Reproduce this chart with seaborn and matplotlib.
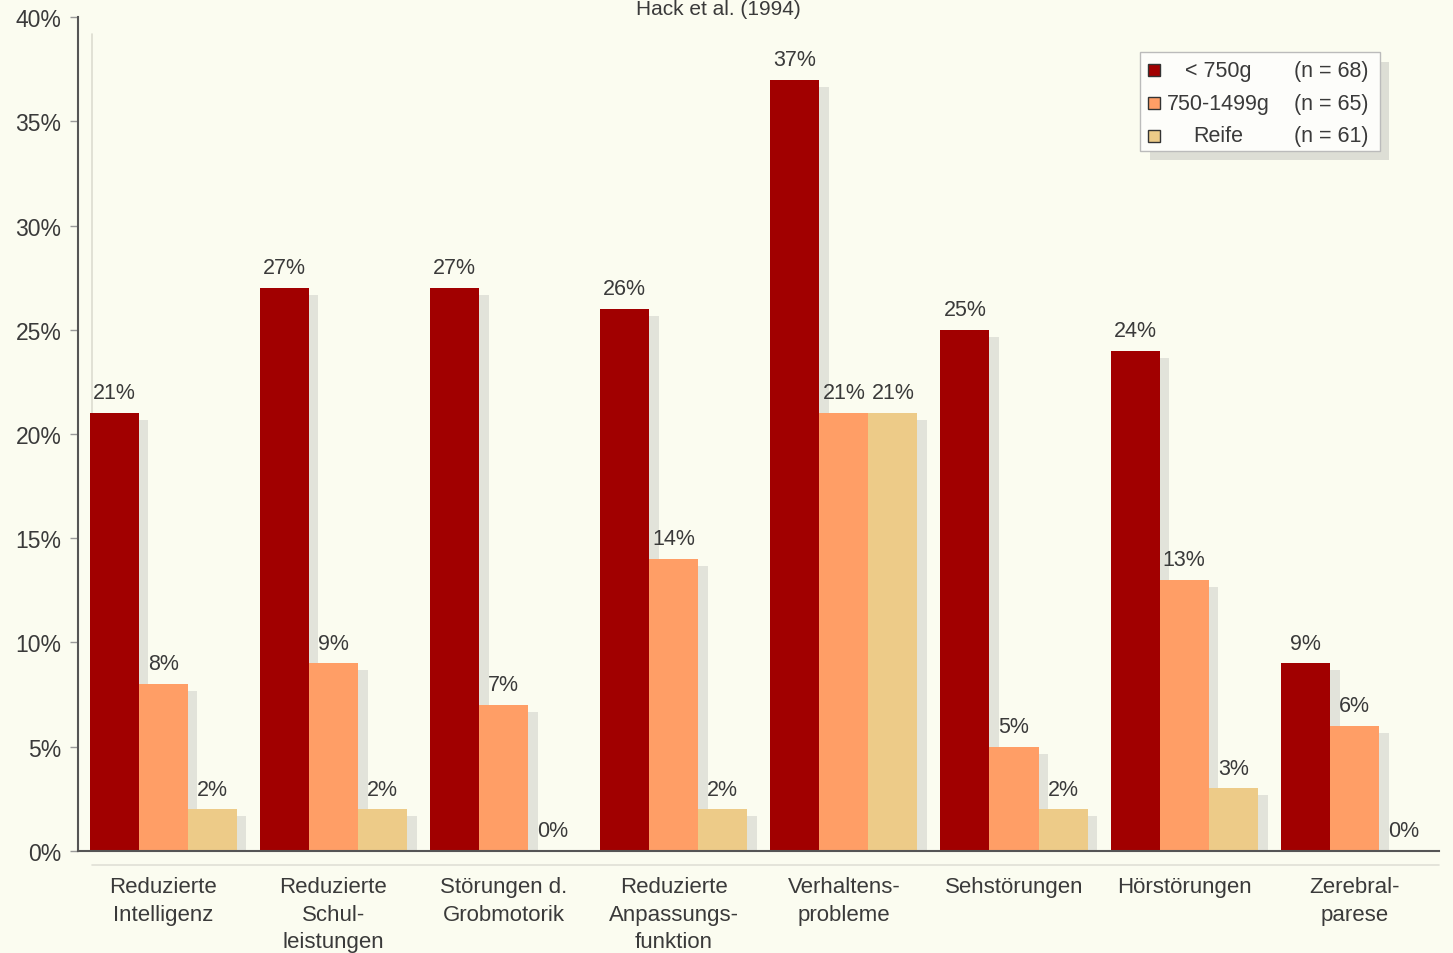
import matplotlib
matplotlib.use("Agg")
import matplotlib.pyplot as plt
import matplotlib.patheffects as pe
from matplotlib.patches import Rectangle
import numpy as np
import pandas as pd
import seaborn as sns

# Outcome categories (line breaks as on the axis)
categories = [
    "Reduzierte\nIntelligenz",
    "Reduzierte\nSchul-\nleistungen",
    "Störungen d.\nGrobmotorik",
    "Reduzierte\nAnpassungs-\nfunktion",
    "Verhaltens-\nprobleme",
    "Sehstörungen",
    "Hörstörungen",
    "Zerebral-\nparese",
]
groups = ["< 750g", "750-1499g", "Reife"]
group_n = ["(n = 68)", "(n = 65)", "(n = 61)"]

under_750 = [21, 27, 27, 26, 37, 25, 24, 9]
from_750_1499 = [8, 9, 7, 14, 21, 5, 13, 6]
term = [2, 2, 0, 2, 21, 2, 3, 0]

y_ticks = [0, 5, 10, 15, 20, 25, 30, 35, 40]
title = "Hack et al. (1994)"

colors = ["#A10000", "#FF9E66", "#EDCB88"]
bg = "#FBFCF0"
text_col = "#3A3A3A"

df = pd.DataFrame({
    "Kategorie": categories * 3,
    "Gruppe": np.repeat(groups, len(categories)),
    "Anteil": under_750 + from_750_1499 + term,
})

sns.set_theme(style="white")
plt.rcParams["font.family"] = ["Liberation Sans", "DejaVu Sans"]

fig = plt.figure(figsize=(14.53, 9.54), dpi=100, facecolor=bg)
ax = fig.add_axes([0.0537, 0.107, 0.937, 0.874])
ax.set_facecolor(bg)

sns.barplot(
    data=df, x="Kategorie", y="Anteil", hue="Gruppe",
    order=categories, hue_order=groups, palette=colors,
    width=0.865, gap=0, saturation=1, legend=False, ax=ax,
)

shadow = [pe.SimplePatchShadow(offset=(7, -5), shadow_rgbFace="#9a9a9a", alpha=0.25), pe.Normal()]
for cont in ax.containers:
    for bar in cont:
        bar.set_edgecolor("none")
        bar.set_path_effects(shadow)
    ax.bar_label(cont, labels=[f"{int(v)}%" for v in cont.datavalues],
                 padding=7, fontsize=15.5, color=text_col)

ax.set_xlim(-0.5, len(categories) - 0.5)
ax.set_ylim(0, 40)
ax.set_yticks(y_ticks)
ax.set_yticklabels([f"{v}%" for v in y_ticks], fontsize=16.5, color=text_col)
ax.set_xticks(range(len(categories)))
ax.set_xticklabels(categories, fontsize=16, color=text_col, linespacing=1.42)
ax.set_xticks(np.arange(-0.5, len(categories), 1.0), minor=True)
ax.tick_params(axis="x", which="major", length=0, pad=18)
ax.tick_params(axis="x", which="minor", length=6, width=1, color="#666666", direction="out")
ax.tick_params(axis="y", length=6, width=1, color="#999999", pad=6, left=True)
ax.set_xlabel("")
ax.set_ylabel("")

for side in ["top", "right"]:
    ax.spines[side].set_visible(False)
for side in ["left", "bottom"]:
    ax.spines[side].set_color("#555555")
    ax.spines[side].set_linewidth(1.5)

# soft echo of the axes behind the chart
ax.plot([0.0103, 0.0103], [0, 0.98], transform=ax.transAxes, color="#DCDCD0", lw=1.2,
        zorder=0, clip_on=False)
ax.plot([0.0103, 1.0], [-0.017, -0.017], transform=ax.transAxes, color="#E0E0D6", lw=1.2,
        zorder=0, clip_on=False)

# legend box
lx0, ly0, lw, lh = 0.780, 0.840, 0.176, 0.118
box = Rectangle((lx0, ly0), lw, lh, transform=ax.transAxes, facecolor="#FDFDFA",
                edgecolor="#BBBBBB", lw=1, zorder=5,
                path_effects=[pe.SimplePatchShadow(offset=(7, -7), shadow_rgbFace="#999999", alpha=0.3),
                              pe.Normal()])
ax.add_patch(box)
row_y = [0.936, 0.897, 0.858]
for c, g, n, yy in zip(colors, groups, group_n, row_y):
    ax.add_patch(Rectangle((lx0 + 0.0059, yy - 0.0072), 0.0088, 0.0144, transform=ax.transAxes,
                           facecolor=c, edgecolor="#333333", lw=1, zorder=6))
    ax.text(lx0 + 0.0575, yy, g, transform=ax.transAxes, ha="center", va="center",
            fontsize=15.5, color=text_col, zorder=7)
    ax.text(lx0 + 0.1405, yy, n, transform=ax.transAxes, ha="center", va="center",
            fontsize=15.5, color=text_col, zorder=7)

fig.text(718 / 1453, 1.0 - 9.5 / 954, title, ha="center", va="center", fontsize=15, color=text_col)

fig.savefig("out.png", dpi=100, facecolor=bg)
